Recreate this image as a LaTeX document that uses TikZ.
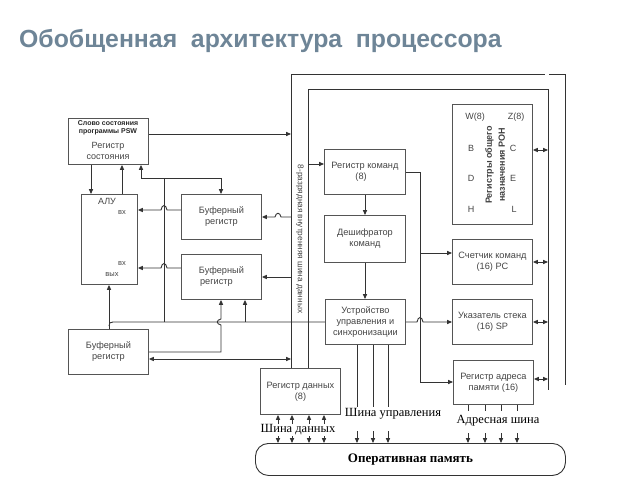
\documentclass[tikz,border=0pt]{standalone}
\usepackage{fontspec}
\setmainfont{Liberation Serif}
\setsansfont{Liberation Sans}
\usetikzlibrary{arrows.meta,calc}
\definecolor{titlec}{HTML}{6E8597}
\definecolor{linec}{HTML}{333333}
\definecolor{boxc}{HTML}{555555}
\definecolor{txtc}{HTML}{444444}
\begin{document}
\begin{tikzpicture}[x=1pt,y=-1pt,
  box/.style={draw=boxc, line width=0.9pt, anchor=north west, inner sep=0pt,
    font=\sffamily\fontsize{9.2}{11}\selectfont, text=txtc, align=center},
  wire/.style={draw=linec, line width=0.9pt},
  arr/.style={wire, -{Triangle[length=5pt,width=4.2pt]}},
  darr/.style={wire, {Triangle[length=5pt,width=4.2pt]}-{Triangle[length=5pt,width=4.2pt]}},
  lbl/.style={inner sep=0pt, font=\sffamily\fontsize{9}{11}\selectfont, text=txtc},
  blbl/.style={inner sep=0pt, font=\rmfamily\fontsize{12.5}{14}\selectfont, text=black}]
\useasboundingbox (0,0) rectangle (640,480);
% title
\node[anchor=base west, inner sep=0pt, text=titlec, font=\sffamily\bfseries\fontsize{24.8}{28}\selectfont] (title) at (19,47) {Обобщенная\ \ архитектура\ \ процессора};

% boxes
\node[box, minimum width=80, minimum height=46] (psw) at (68,118) {};
\node[lbl, font=\sffamily\bfseries\fontsize{7}{8.5}\selectfont, align=center, text=black!85] (pswt) at (108,128) {Слово состояния\\программы PSW};
\node[lbl, align=center] (pswt2) at (108,151) {Регистр\\состояния};
\node[box, minimum width=56, minimum height=90] (alu) at (81,194) {};
\node[lbl] (alut) at (107,201) {АЛУ};
\node[lbl, font=\sffamily\fontsize{7.5}{9}\selectfont] (vx1) at (122,213) {вх};
\node[lbl, font=\sffamily\fontsize{7.5}{9}\selectfont] (vx2) at (122,264) {вх};
\node[lbl, font=\sffamily\fontsize{7.5}{9}\selectfont] (vyx) at (112,275) {вых};
\node[box, minimum width=80, minimum height=45] (buf1) at (181,194) {Буферный\\регистр};
\node[box, minimum width=80, minimum height=45] (buf2) at (181,254) {Буферный\\регистр\hspace*{10pt}};
\node[box, minimum width=80, minimum height=45] (buf3) at (68,329) {Буферный\\регистр};
\node[box, minimum width=80, minimum height=46] (dreg) at (260,368) {Регистр данных\\(8)};
\node[box, minimum width=81, minimum height=45, align=left] (rcmd) at (324,149) {Регистр команд\\\hspace*{24pt}(8)};
\node[box, minimum width=81, minimum height=47] (dec) at (324,215) {Дешифратор\\команд};
\node[box, minimum width=80, minimum height=45] (cu) at (325,299) {Устройство\\управления и\\синхронизации};
\node[box, minimum width=80, minimum height=120] (ron) at (452,104) {};
\node[box, minimum width=80, minimum height=45] (pc) at (452,239) {Счетчик команд\\(16) PC};
\node[box, minimum width=80, minimum height=45] (sp) at (452,299) {Указатель стека\\(16) SP};
\node[box, minimum width=80, minimum height=44] (mar) at (453,360) {Регистр адреса\\памяти (16)};
\node[lbl] (rw) at (475,117) {W(8)};
\node[lbl] (rz) at (516,117) {Z(8)};
\node[lbl] (rb) at (471,148) {B};
\node[lbl] (rc) at (513,148) {C};
\node[lbl] (rd) at (471,178) {D};
\node[lbl] (re) at (513,178) {E};
\node[lbl] (rh) at (471,209) {H};
\node[lbl] (rl) at (514,209) {L};
\node[lbl, rotate=90, align=center, font=\sffamily\bfseries\fontsize{9}{13}\selectfont, text=black!75] (ront) at (495,165) {Регистры общего\\назначения РОН};
\node[draw=linec, line width=0.9pt, rounded corners=13pt, minimum width=310, minimum height=32, anchor=north west, inner sep=0pt,
  font=\rmfamily\bfseries\fontsize{13}{15}\selectfont] (mem) at (255,443) {Оперативная память};

% internal data bus
\coordinate (ob1) at (291,74);
\coordinate (ib1) at (308,89);
\draw[wire] (dreg.north -| ob1) -- (ob1) -- (545,74);
\draw[wire] (549,74) -- (565,74) -- (565,385);
\draw[wire] (dreg.north -| ib1) -- (ib1) -- (548,89) -- (548,390);
\node[lbl, rotate=-90, font=\sffamily\fontsize{8.3}{9}\selectfont] (bust) at (300,239) {8-разрядная внутренняя шина данных};

% PSW and ALU
\draw[arr] (psw.east |- 0,134) -- (ob1 |- 0,134);
\draw[arr] (psw.south -| 91,0) -- (alu.north -| 91,0);
\draw[arr] (alu.north -| 122,0) -- (psw.south -| 122,0);
\coordinate (j1) at (164,178);
\draw[arr] (141,178) -- (psw.south -| 141,0);
\draw[arr] (141,178) -- (221,178) -- (buf1.north -| 221,0);
\draw[wire] (j1) -- (164,322);
% buffers to ALU with hops over x=164
\draw[arr] (buf1.west |- 0,210) -- (167,210) .. controls (166,204) and (162,204) .. (161,210) -- (alu.east |- 0,210);
\draw[arr] (buf2.west |- 0,268) -- (167,268) .. controls (166,262) and (162,262) .. (161,268) -- (alu.east |- 0,268);
% bus to buffers
\draw[arr] (ob1 |- 0,217) -- (281,217) .. controls (280,212) and (276,212) .. (275,217) -- (buf1.east |- 0,217);
\draw[arr] (ob1 |- 0,277) -- (buf2.east |- 0,277);
% line y=322
\draw[wire] (cu.west |- 0,322) -- (113,322) .. controls (110,322) and (109,323) .. (109,326);
\draw[arr] (245,322) -- (buf2.south -| 245,0);
\draw[arr] (buf3.north -| 109,0) -- (alu.south -| 109,0);
\draw[arr] (buf3.east |- 0,352) -- (221,352) -- (221,325) .. controls (216,324) and (216,320) .. (221,319) -- (buf2.south -| 221,0);
\draw[darr] (buf3.east |- 0,359) -- (ob1 |- 0,359);

% command path
\draw[arr] (ib1 |- 0,164) -- (rcmd.west |- 0,164);
\draw[arr] (rcmd.south -| 365,0) -- (dec.north -| 365,0);
\draw[arr] (dec.south -| 365,0) -- (cu.north -| 365,0);
\coordinate (j2) at (420,253);
\draw[arr] (rcmd.east |- 0,172) -- (420,172) -- (420,382) -- (mar.west |- 0,382);
\draw[arr] (j2) -- (pc.west |- j2);
\draw[arr] (cu.east |- 0,322) -- (417,322) .. controls (418,316) and (422,316) .. (423,322) -- (sp.west |- 0,322);

% registers to bus
\draw[darr] (ron.east |- 0,150) -- (548,150);
\draw[darr] (pc.east |- 0,262) -- (548,262);
\draw[darr] (sp.east |- 0,322) -- (548,322);
\draw[darr] (mar.east |- 0,379) -- (548,379);

% control bus
\foreach \x in {357,373,388} {
  \draw[wire] (cu.south -| \x,0) -- (\x,407);
  \draw[arr] (\x,431) -- (mem.north -| \x,0);
}
\node[blbl] (cbus) at (393,414) {Шина управления};
% address bus
\foreach \x in {468,485,501,517} {
  \draw[wire] (mar.south -| \x,0) -- (\x,411);
  \draw[arr] (\x,433) -- (mem.north -| \x,0);
}
\node[blbl] (abus) at (498,421) {Адресная шина};
% data bus
\foreach \x in {278,292,309,324} {
  \draw[arr] (\x,424) -- (dreg.south -| \x,0);
  \draw[arr] (\x,436) -- (mem.north -| \x,0);
}
\node[blbl] (dbus) at (298,430) {Шина данных};
\end{tikzpicture}
\end{document}
